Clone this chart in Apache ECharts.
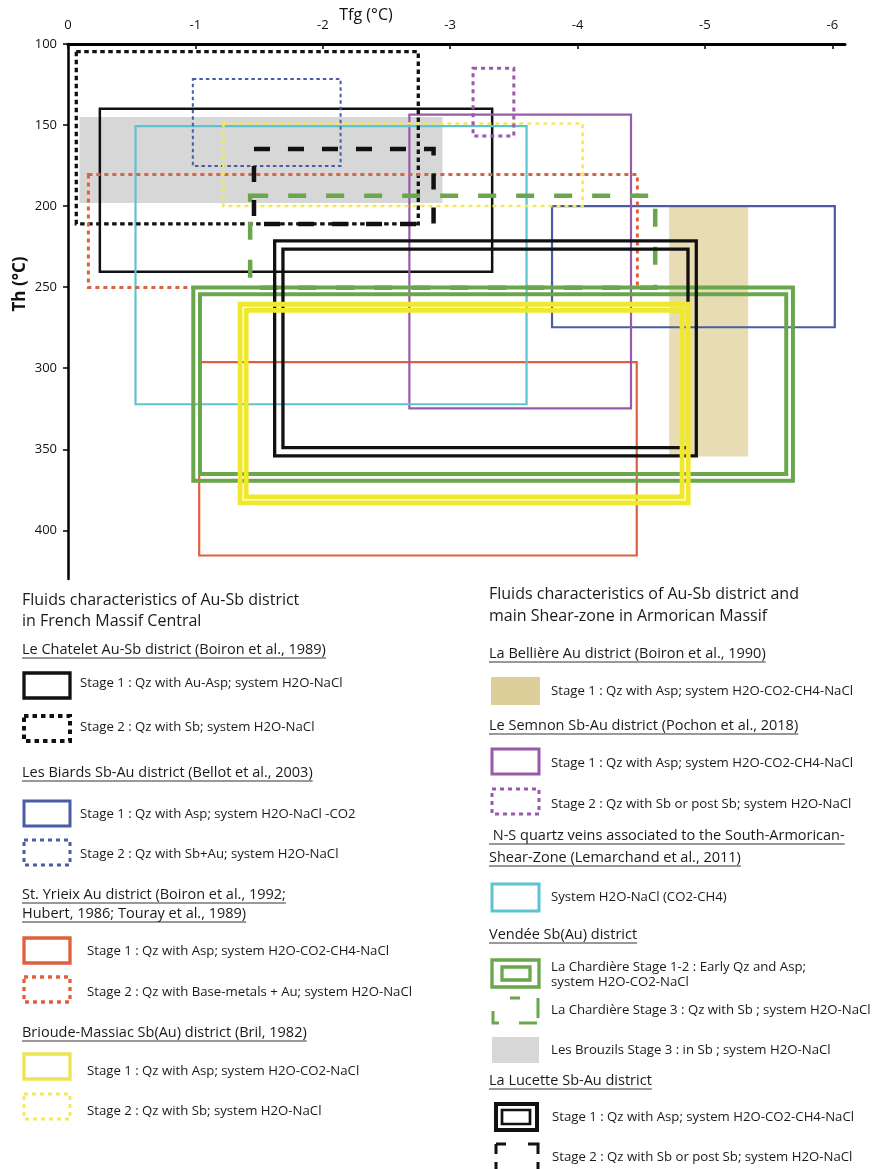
<!DOCTYPE html>
<html>
<head>
<meta charset="utf-8">
<style>
  html, body { margin: 0; padding: 0; background: #fff; }
  #chart { width: 872px; height: 1169px; }
</style>
<script src="https://cdn.jsdelivr.net/npm/echarts@6/dist/echarts.min.js"></script>
</head>
<body>
<div id="chart"></div>
<script>
// fluid inclusion boxes: Tfg range (°C) and Th range (°C)
const boxIds = [
  'brouzils3', 'belliere1', 'chatelet1', 'biards1', 'yrieix1', 'semnon1', 'nsVeins',
  'chatelet2', 'biards2', 'yrieix2', 'brioude2', 'semnon2', 'chardiere3', 'lucette2',
  'chardiere12', 'lucette1', 'brioude1'
]
const tfgFrom = [-0.09, -4.72, -0.25, -3.80, -1.03, -2.68, -0.53, -0.065, -0.98, -0.16, -1.22, -3.18, -1.43, -1.46, -1.01, -1.655, -1.375]
const tfgTo   = [-2.94, -5.34, -3.33, -6.02, -4.465, -4.42, -3.60, -2.75, -2.14, -4.47, -4.04, -3.50, -4.61, -2.87, -5.665, -4.90, -4.845]
const thFrom  = [145, 199.5, 140, 200, 296.2, 143.6, 150.6, 104.7, 121.6, 180.5, 149, 115, 193.6, 164.8, 252.3, 224, 262.4]
const thTo    = [198, 354.5, 240.5, 274.7, 415.5, 324.7, 322.2, 211, 175.3, 250.2, 200, 156.8, 250.3, 211, 367.3, 351.5, 381.2]

const tfgTicks = [0, -1, -2, -3, -4, -5, -6]
const thTicks = [100, 150, 200, 250, 300, 350, 400]

const BLACK = '#111111'
const BLUE = '#4a5ca4'
const RED = '#e0603e'
const YELLOW = '#f0e82c'
const YELLOW_DOT = '#f1e95a'
const PURPLE = '#9a5aaa'
const CYAN = '#5fc3cf'
const GREEN = '#69a64c'
const GREY = '#d7d7d7'
const TAN = '#e8dcb4'

// line styles; gap = transparent gap of the double outlines
const boxStyles = {
  brouzils3: { fill: GREY },
  belliere1: { fill: TAN },
  chatelet1: { stroke: BLACK, width: 2.5 },
  biards1: { stroke: BLUE, width: 2.2 },
  yrieix1: { stroke: RED, width: 2.2 },
  semnon1: { stroke: PURPLE, width: 2.2 },
  nsVeins: { stroke: CYAN, width: 2.2 },
  chatelet2: { stroke: BLACK, width: 3.3, dash: [4.5, 3.5] },
  biards2: { stroke: BLUE, width: 2, dash: [3.5, 3] },
  yrieix2: { stroke: RED, width: 3, dash: [4, 4] },
  brioude2: { stroke: YELLOW_DOT, width: 2.5, dash: [4, 4] },
  semnon2: { stroke: PURPLE, width: 3, dash: [4, 4] },
  chardiere3: { stroke: GREEN, width: 4.5, dash: [18, 20] },
  lucette2: { stroke: BLACK, width: 4.5, dash: [16, 18] },
  chardiere12: { stroke: GREEN, width: 4, gap: 2.7 },
  lucette1: { stroke: BLACK, width: 3.3, gap: 5 },
  brioude1: { stroke: YELLOW, width: 4.8, gap: 1.3 }
}

const makeRect = (x, y, w, h, st, lw) => ({
  type: 'rect',
  shape: { x, y, width: w, height: h },
  style: {
    fill: st.fill || 'none',
    stroke: st.fill ? null : st.stroke,
    lineWidth: lw,
    lineDash: st.dash || null
  }
})

const renderBox = (st) => (params, api) => {
  const a = api.coord([api.value(0), api.value(2)])
  const b = api.coord([api.value(1), api.value(3)])
  const x = Math.min(a[0], b[0])
  const y = Math.min(a[1], b[1])
  const w = Math.abs(b[0] - a[0])
  const h = Math.abs(b[1] - a[1])
  if (st.gap) {
    const d = (st.width + st.gap) / 2
    return {
      type: 'group',
      children: [
        makeRect(x - d, y - d, w + 2 * d, h + 2 * d, st, st.width),
        makeRect(x + d, y + d, w - 2 * d, h - 2 * d, st, st.width)
      ]
    }
  }
  return makeRect(x, y, w, h, st, st.width || 0)
}

const series = boxIds.map((id, i) => ({
  type: 'custom',
  name: id,
  renderItem: renderBox(boxStyles[id]),
  encode: { x: [0, 1], y: [2, 3] },
  data: [[tfgFrom[i], tfgTo[i], thFrom[i], thTo[i]]],
  silent: true
}))

// ---------- legend (drawn as graphics) ----------
const FONT = '"Open Sans", "Noto Sans", sans-serif'
const ctx = document.createElement('canvas').getContext('2d')
const textW = (t, size) => {
  ctx.font = `${size}px ${FONT}`
  return ctx.measureText(t).width
}

const graphics = []
const addText = (t, x, y, size, underline) => {
  graphics.push({
    type: 'text',
    x, y,
    style: { text: t, font: `${size}px ${FONT}`, fill: '#1a1a1a', verticalAlign: 'middle' }
  })
  if (underline) {
    const w = textW(t, size)
    graphics.push({
      type: 'line',
      shape: { x1: x, y1: y + 8, x2: x + w, y2: y + 8 },
      style: { stroke: '#333', lineWidth: 1 }
    })
  }
}
const addSwatch = (x, y, w, h, style) => {
  graphics.push({ type: 'rect', shape: { x, y, width: w, height: h }, style })
}

const T = 16, H = 14.5, S = 13.2

// left column
addText('Fluids characteristics of Au-Sb district', 22, 600, T)
addText('in French Massif Central', 22, 621, T)
addText('Le Chatelet Au-Sb district (Boiron et al., 1989)', 22, 650, H, true)
addSwatch(24, 673, 46, 25, { fill: 'none', stroke: BLACK, lineWidth: 3.3 })
addText('Stage 1 : Qz with Au-Asp; system H2O-NaCl', 80, 683, S)
addSwatch(24, 716, 46, 25, { fill: 'none', stroke: BLACK, lineWidth: 4, lineDash: [4.5, 4] })
addText('Stage 2 : Qz with Sb; system H2O-NaCl', 80, 727, S)
addText('Les Biards Sb-Au district (Bellot et al., 2003)', 22, 773, H, true)
addSwatch(24, 801, 46, 25, { fill: 'none', stroke: BLUE, lineWidth: 3 })
addText('Stage 1 : Qz with Asp; system H2O-NaCl -CO2', 80, 814, S)
addSwatch(24, 840, 46, 25, { fill: 'none', stroke: BLUE, lineWidth: 3, lineDash: [4, 4] })
addText('Stage 2 : Qz with Sb+Au; system H2O-NaCl', 80, 854, S)
addText('St. Yrieix Au district (Boiron et al., 1992;', 22, 895, H, true)
addText('Hubert, 1986; Touray et al., 1989)', 22, 914, H, true)
addSwatch(24, 938, 46, 25, { fill: 'none', stroke: RED, lineWidth: 3.3 })
addText('Stage 1 : Qz with Asp; system H2O-CO2-CH4-NaCl', 87, 951, S)
addSwatch(24, 977, 46, 25, { fill: 'none', stroke: RED, lineWidth: 3.3, lineDash: [4, 4] })
addText('Stage 2 : Qz with Base-metals + Au; system H2O-NaCl', 87, 992, S)
addText('Brioude-Massiac Sb(Au) district (Bril, 1982)', 22, 1033, H, true)
addSwatch(24, 1054, 46, 25, { fill: 'none', stroke: '#ebe556', lineWidth: 3.3 })
addText('Stage 1 : Qz with Asp; system H2O-CO2-NaCl', 87, 1071, S)
addSwatch(24, 1094, 46, 25, { fill: 'none', stroke: YELLOW_DOT, lineWidth: 2.8, lineDash: [4, 4] })
addText('Stage 2 : Qz with Sb; system H2O-NaCl', 87, 1111, S)

// right column
addText('Fluids characteristics of Au-Sb district and', 489, 594, T)
addText('main Shear-zone in Armorican Massif', 489, 616, T)
addText('La Bellière Au district (Boiron et al., 1990)', 489, 654, H, true)
addSwatch(491, 677, 49, 28, { fill: '#dccf9a' })
addText('Stage 1 : Qz with Asp; system H2O-CO2-CH4-NaCl', 551, 691, S)
addText('Le Semnon Sb-Au district (Pochon et al., 2018)', 489, 726, H, true)
addSwatch(492, 749, 47, 25, { fill: 'none', stroke: PURPLE, lineWidth: 3 })
addText('Stage 1 : Qz with Asp; system H2O-CO2-CH4-NaCl', 551, 763, S)
addSwatch(492, 789, 47, 25, { fill: 'none', stroke: PURPLE, lineWidth: 3, lineDash: [4, 4] })
addText('Stage 2 : Qz with Sb or post Sb; system H2O-NaCl', 551, 804, S)
addText(' N-S quartz veins associated to the South-Armorican-', 489, 836, H, true)
addText('Shear-Zone (Lemarchand et al., 2011)', 489, 858, H, true)
addSwatch(492, 884, 47, 27, { fill: 'none', stroke: CYAN, lineWidth: 3 })
addText('System H2O-NaCl (CO2-CH4)', 551, 897, S)
addText('Vendée Sb(Au) district', 489, 935, H, true)
addSwatch(492, 960, 47, 27, { fill: 'none', stroke: GREEN, lineWidth: 3.3 })
addSwatch(502, 967, 28, 13, { fill: 'none', stroke: GREEN, lineWidth: 3.3 })
addText('La Chardière Stage 1-2 : Early Qz and Asp;', 551, 967, S)
addText('system H2O-CO2-NaCl', 551, 982, S)
addSwatch(493, 998, 45, 25, { fill: 'none', stroke: GREEN, lineWidth: 3, lineDash: [0, 17, 10, 18, 20, 6, 18, 20, 18, 15] })
addText('La Chardière Stage 3 : Qz with Sb ; system H2O-NaCl', 551, 1010, S)
addSwatch(492, 1037, 47, 26, { fill: GREY })
addText('Les Brouzils Stage 3 : in Sb ; system H2O-NaCl', 551, 1050, S)
addText('La Lucette Sb-Au district', 489, 1081, H, true)
addSwatch(496, 1104, 41, 26, { fill: 'none', stroke: BLACK, lineWidth: 4 })
addSwatch(502, 1110, 28, 14, { fill: 'none', stroke: BLACK, lineWidth: 2.7 })
addText('Stage 1 : Qz with Asp; system H2O-CO2-CH4-NaCl', 552, 1117, S)
addSwatch(496, 1144, 42, 28, { fill: 'none', stroke: BLACK, lineWidth: 3, lineDash: [10, 22, 20, 8, 20, 22, 20, 8, 10, 0] })
addText('Stage 2 : Qz with Sb or post Sb; system H2O-NaCl', 552, 1157, S)

// axis titles
const AXFONT = '"Open Sans", sans-serif'
graphics.push({
  type: 'text', x: 366, y: 15,
  style: { text: 'Tfg (°C)', font: `16px ${AXFONT}`, fill: '#111', align: 'center', verticalAlign: 'middle' }
})
graphics.push({
  type: 'text', x: 20, y: 284, rotation: Math.PI / 2,
  style: { text: 'Th (°C)', font: `bold 17px ${AXFONT}`, fill: '#111', align: 'center', verticalAlign: 'middle' }
})

const chart = echarts.init(document.getElementById('chart'))
chart.setOption({
  animation: false,
  backgroundColor: '#fff',
  grid: { left: 68, top: 44, width: 777, height: 535 },
  xAxis: {
    type: 'value',
    position: 'top',
    min: -6.1,
    max: 0,
    inverse: true,
    axisLine: { onZero: false, lineStyle: { color: '#000', width: 3 } },
    axisTick: { show: true, inside: true, length: 5, customValues: tfgTicks, lineStyle: { color: '#000', width: 1.5 } },
    axisLabel: { customValues: tfgTicks, margin: 12, color: '#111', fontSize: 13, fontFamily: AXFONT },
    splitLine: { show: false }
  },
  yAxis: {
    type: 'value',
    min: 100,
    max: 430,
    inverse: true,
    axisLine: { show: true, onZero: false, lineStyle: { color: '#000', width: 2.5 } },
    axisTick: { show: true, length: 5, customValues: thTicks, lineStyle: { color: '#000', width: 1.5 } },
    axisLabel: { customValues: thTicks, margin: 11, color: '#111', fontSize: 13, fontFamily: AXFONT },
    splitLine: { show: false }
  },
  graphic: graphics,
  series
})
</script>
</body>
</html>
